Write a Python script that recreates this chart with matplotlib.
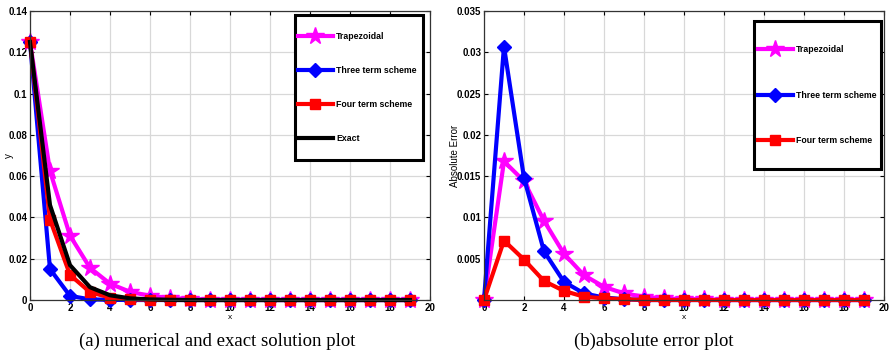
import matplotlib
matplotlib.use("Agg")
import matplotlib.pyplot as plt
from matplotlib.ticker import FuncFormatter
from matplotlib.patches import Rectangle

x = list(range(20))

# (a) numerical and exact solution
y_trap = [0.125, 0.0625, 0.0312, 0.0156, 0.0079, 0.0040, 0.0020, 0.0010, 0.0005, 0.0002,
          0.0001, 0.0001, 0, 0, 0, 0, 0, 0, 0, 0]
y_three = [0.125, 0.0150, 0.0020, 0.0003, 0.0001, 0, 0, 0, 0, 0,
           0, 0, 0, 0, 0, 0, 0, 0, 0, 0]
y_four = [0.125, 0.0390, 0.0122, 0.0038, 0.0012, 0.0004, 0.0001, 0, 0, 0,
          0, 0, 0, 0, 0, 0, 0, 0, 0, 0]
y_exact = [0.125, 0.0460, 0.0169, 0.0062, 0.0023, 0.0008, 0.0003, 0.0001, 0, 0,
           0, 0, 0, 0, 0, 0, 0, 0, 0, 0]

# (b) absolute error
e_trap = [0, 0.0168, 0.0144, 0.0096, 0.0056, 0.0030, 0.0016, 0.0008, 0.0004, 0.0002,
          0.0001, 0.0001, 0, 0, 0, 0, 0, 0, 0, 0]
e_three = [0, 0.0307, 0.0148, 0.0059, 0.0022, 0.0008, 0.0003, 0.0001, 0, 0,
           0, 0, 0, 0, 0, 0, 0, 0, 0, 0]
e_four = [0, 0.0072, 0.0049, 0.0023, 0.0011, 0.0004, 0.0002, 0.0001, 0, 0,
          0, 0, 0, 0, 0, 0, 0, 0, 0, 0]

labels = ["Trapezoidal", "Three term scheme", "Four term scheme", "Exact"]
captions = ["(a) numerical and exact solution plot", "(b)absolute error plot"]

plt.rcParams["font.family"] = ["Liberation Sans", "DejaVu Sans"]
plt.rcParams["font.weight"] = "bold"

fig = plt.figure(figsize=(8.9, 3.54), dpi=100)
ax1 = fig.add_axes([0.0337, 0.1525, 0.4494, 0.8164])
ax2 = fig.add_axes([0.5438, 0.1525, 0.4494, 0.8164])

lw = 3.0
def style(ax):
    ax.grid(True, color="#d8d8d8", linewidth=0.9)
    ax.set_axisbelow(True)
    ax.tick_params(direction="in", top=True, right=True, labelsize=7, length=3,
                   width=0.8, pad=2)
    for lab in ax.get_xticklabels() + ax.get_yticklabels():
        lab.set_fontweight("bold")
    for s in ax.spines.values():
        s.set_linewidth(0.9)
        s.set_color("#333333")
    ax.set_xlim(0, 20)
    ax.set_xticks(range(0, 21, 2))
    ax.xaxis.set_major_formatter(FuncFormatter(lambda v, p: "%g" % v))
    ax.yaxis.set_major_formatter(FuncFormatter(lambda v, p: "%g" % v))

def boxed_legend(ax, rect, anchor, spacing):
    r = Rectangle((rect[0], rect[1]), rect[2] - rect[0], rect[3] - rect[1],
                  transform=ax.transAxes, facecolor="white", edgecolor="black",
                  linewidth=2.2, zorder=5, clip_on=False)
    ax.add_patch(r)
    leg = ax.legend(loc="center left", bbox_to_anchor=anchor, frameon=False,
                    labelspacing=spacing, handlelength=4.0, handletextpad=0.35,
                    numpoints=1, borderpad=0, borderaxespad=0,
                    prop={"weight": "bold", "size": 6.3})
    leg.set_zorder(6)
    return leg

# left
ax1.plot(x, y_trap, color="#ff00ff", lw=lw, marker="*", ms=13, label=labels[0])
ax1.plot(x, y_three, color="#0000ff", lw=lw, marker="D", ms=7, label=labels[1])
ax1.plot(x, y_four, color="#ff0000", lw=lw, marker="s", ms=7, label=labels[2])
ax1.plot(x, y_exact, color="black", lw=lw, label=labels[3])
ax1.set_ylim(0, 0.14)
ax1.set_yticks([0, 0.02, 0.04, 0.06, 0.08, 0.1, 0.12, 0.14])
style(ax1)
ax1.set_xlabel("x", fontsize=6, labelpad=1)
ax1.set_ylabel("y", fontsize=7)
ax1.yaxis.set_label_coords(-0.04, 0.5)
boxed_legend(ax1, (0.6625, 0.4844, 0.9825, 0.986), (0.67, 0.735), 2.85)

# right
ax2.plot(x, e_trap, color="#ff00ff", lw=lw, marker="*", ms=13, label=labels[0])
ax2.plot(x, e_three, color="#0000ff", lw=lw, marker="D", ms=7, label=labels[1])
ax2.plot(x, e_four, color="#ff0000", lw=lw, marker="s", ms=7, label=labels[2])
ax2.set_ylim(0, 0.035)
ax2.set_yticks([0.005, 0.01, 0.015, 0.02, 0.025, 0.03, 0.035])
style(ax2)
ax2.set_xlabel("x", fontsize=6, labelpad=1)
ax2.set_ylabel("Absolute Error", fontsize=7)
ax2.yaxis.set_label_coords(-0.06, 0.5)
boxed_legend(ax2, (0.675, 0.4533, 0.9925, 0.9654), (0.684, 0.709), 4.2)

for a in (ax1, ax2):
    for ln in a.get_lines():
        ln.set_clip_on(False)

fig.text(0.244, 0.037, captions[0], ha="center", va="center",
         fontsize=13.5, family=["Liberation Serif", "DejaVu Serif"], weight="normal")
fig.text(0.734, 0.037, captions[1], ha="center", va="center",
         fontsize=13.5, family=["Liberation Serif", "DejaVu Serif"], weight="normal")

fig.savefig("out.png", dpi=100)
